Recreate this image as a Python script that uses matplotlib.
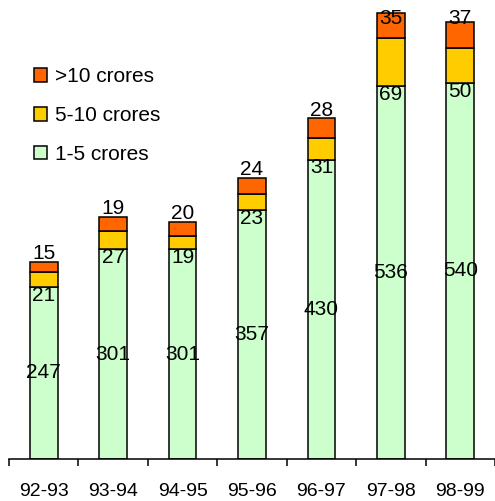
import matplotlib.pyplot as plt
import numpy as np

plt.rcParams['font.family'] = ['Liberation Sans', 'DejaVu Sans']

# Данные
years = ['92-93', '93-94', '94-95', '95-96', '96-97', '97-98', '98-99']
small = [247, 301, 301, 357, 430, 536, 540]   # 1-5 crores
medium = [21, 27, 19, 23, 31, 69, 50]         # 5-10 crores
large = [15, 19, 20, 24, 28, 35, 37]          # >10 crores

c_small = '#CCFFCC'
c_medium = '#FFCC00'
c_large = '#FF6600'

fig = plt.figure(figsize=(4.95, 5.01), dpi=100)
ax = fig.add_axes([9 / 495, 42 / 501, 486 / 495, 459 / 501])

x = np.arange(len(years))
w = 0.4
kw = dict(width=w, edgecolor='black', linewidth=1.1)
small_arr = np.array(small)
medium_arr = np.array(medium)
large_arr = np.array(large)

b1 = ax.bar(x, small_arr, color=c_small, label='1-5 crores', **kw)
b2 = ax.bar(x, medium_arr, bottom=small_arr, color=c_medium, label='5-10 crores', **kw)
b3 = ax.bar(x, large_arr, bottom=small_arr + medium_arr, color=c_large,
            label='>10 crores', **kw)

ax.set_xlim(-0.5, 6.44)
ax.set_ylim(0, 659)

# Подписи значений
fs = 15
for i in range(len(years)):
    ax.text(x[i], small[i] / 2, str(small[i]), ha='center', va='center', fontsize=fs)
    ax.annotate(str(medium[i]), (x[i], small[i]), xytext=(0, -6),
                textcoords='offset points', ha='center', va='center', fontsize=fs)
    top = small[i] + medium[i] + large[i]
    ytxt = min(top + 12, 632)
    ax.text(x[i], ytxt, str(large[i]), ha='center', va='center', fontsize=fs)

# Оси
for s in ['top', 'right', 'left']:
    ax.spines[s].set_visible(False)
ax.spines['bottom'].set_linewidth(1.1)
ax.set_yticks([])
ax.set_xticks(np.arange(-0.5, 7, 1.0))
ax.set_xticklabels([])
ax.set_xticks(x, minor=True)
ax.set_xticklabels(years, minor=True, fontsize=14)
ax.tick_params(axis='x', which='major', direction='out', length=5, width=1.1)
ax.tick_params(axis='x', which='minor', length=0, pad=17)

ax.legend(handles=[b3, b2, b1], loc='upper left', frameon=False,
          bbox_to_anchor=(24 / 495, 1 - 57 / 501), bbox_transform=fig.transFigure,
          fontsize=fs, handlelength=0.62, handleheight=0.62,
          handletextpad=0.35, labelspacing=0.95, borderpad=0)

fig.savefig('out.png', dpi=100)
